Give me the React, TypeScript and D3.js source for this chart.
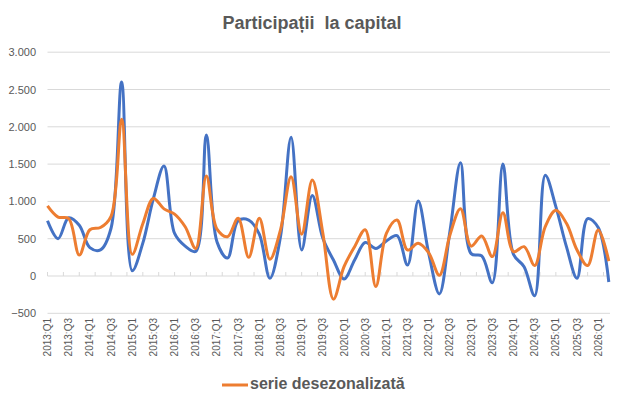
import React from "react";
import * as d3 from "d3";

const quarters: string[] = [];
for (let y = 2013; y <= 2026; y++) {
  for (let q = 1; q <= 4; q++) {
    if (y === 2026 && q > 2) break;
    quarters.push(`${y}:Q${q}`);
  }
}

const seriesRaw: number[] = [
  740, 500, 780, 680, 380, 350, 640, 2600, 70, 440,
  1040, 1475, 570, 400, 330, 1890, 460, 240, 740, 750,
  560, -30, 527, 1860, 350, 1080, 505, 214, -40, 214,
  450, 370, 470, 540, 147, 1005, 300, -240, 600, 1519,
  300, 270, -90, 1501, 290, 125, -265, 1350, 930, 393,
  -30, 770, 650, -80,
];

const seriesSA: number[] = [
  940, 790, 770, 280, 620, 650, 800, 2100, 290, 700,
  1040, 900, 830, 660, 370, 1340, 630, 527, 775, 250,
  775, 225, 617, 1331, 560, 1287, 572, -310, 125, 393,
  620, -140, 572, 750, 348, 438, 310, 10, 550, 900,
  400, 536, 260, 849, 326, 393, 140, 661, 880, 706,
  348, 140, 617, 200,
];

const yTicks: number[] = [-500, 0, 500, 1000, 1500, 2000, 2500, 3000];
const legendLabel = "serie desezonalizată";
const title = "Participații  la capital";

const W = 624;
const H = 407;

const locale = d3.formatLocale({
  decimal: ",",
  thousands: ".",
  grouping: [3],
  currency: ["", ""],
});
const fmt = locale.format(",d");

export default function App() {
  const x = d3.scaleLinear().domain([0, quarters.length - 1]).range([47.5, 608.8]);
  const y = d3.scaleLinear().domain([-500, 3000]).range([313.3, 52.2]);
  const gridRight = 610;

  const line = d3
    .line<number>()
    .x((_, i) => x(i))
    .y((d) => y(d))
    .curve(d3.curveCatmullRom.alpha(0.5));

  const tickIdx = d3.range(0, quarters.length - 1 + 0.01, 1.5);
  const labelIdx = d3.range(0, quarters.length, 2);

  return (
    <svg
      width={W}
      height={H}
      style={{ position: "absolute", left: 0, top: 0, background: "#fff" }}
      fontFamily="'Liberation Sans', Arial, sans-serif"
    >
      <text
        x={312}
        y={29}
        textAnchor="middle"
        fontSize={18}
        fontWeight="bold"
        fill="#595959"
        style={{ whiteSpace: "pre" }}
      >
        {title}
      </text>

      {yTicks.map((t) => (
        <g key={t}>
          <line x1={47.5} x2={gridRight} y1={y(t)} y2={y(t)} stroke="#d9d9d9" strokeWidth={1} />
          <text x={36} y={y(t) + 4} textAnchor="end" fontSize={11} fill="#595959">
            {fmt(t)}
          </text>
        </g>
      ))}

      {tickIdx.map((i) => (
        <line key={i} x1={x(i)} x2={x(i)} y1={y(0) - 4} y2={y(0)} stroke="#d9d9d9" strokeWidth={1} />
      ))}

      {labelIdx.map((i) => (
        <text
          key={i}
          transform={`translate(${x(i)},318) rotate(-90)`}
          textAnchor="end"
          dy="0.35em"
          fontSize={10}
          fill="#595959"
        >
          {quarters[i]}
        </text>
      ))}

      <path d={line(seriesRaw) || ""} fill="none" stroke="#4472C4" strokeWidth={3} strokeLinejoin="round" />
      <path d={line(seriesSA) || ""} fill="none" stroke="#ED7D31" strokeWidth={3} strokeLinejoin="round" />

      <line x1={222} x2={248} y1={385} y2={385} stroke="#ED7D31" strokeWidth={3} />
      <text x={250} y={388.5} fontSize={16} fontWeight="bold" fill="#595959">
        {legendLabel}
      </text>
    </svg>
  );
}
